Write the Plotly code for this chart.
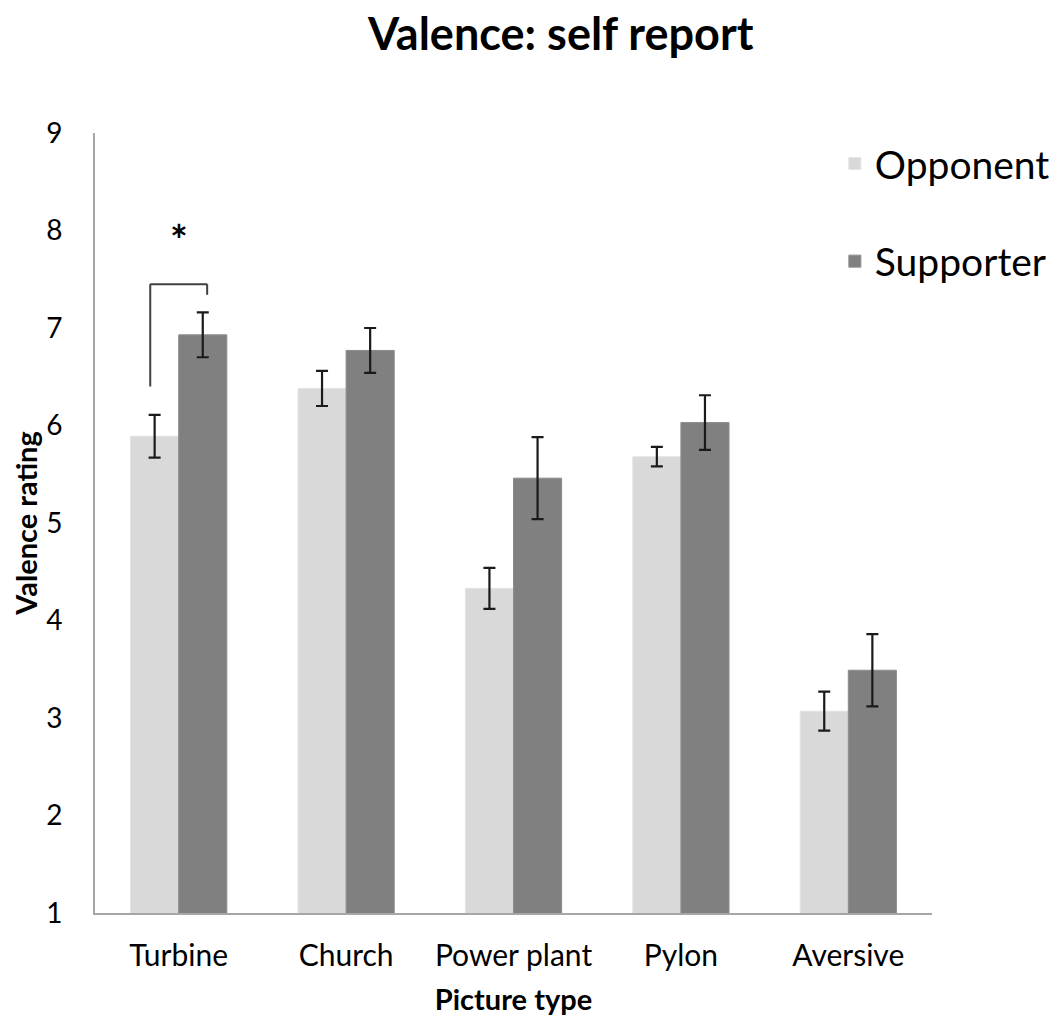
import plotly.graph_objects as go

categories = ["Turbine", "Church", "Power plant", "Pylon", "Aversive"]
opponent = [5.89, 6.38, 4.33, 5.68, 3.07]
opponent_err = [0.22, 0.18, 0.21, 0.10, 0.20]
supporter = [6.93, 6.77, 5.46, 6.03, 3.49]
supporter_err = [0.23, 0.23, 0.42, 0.28, 0.37]

FONT = "Lato"
TXT = "#000000"

fig = go.Figure()
fig.add_trace(go.Bar(
    name="Opponent", x=categories, y=opponent, legendgroup="a",
    marker=dict(color="#d9d9d9", line=dict(color="#e4e4e4", width=1)),
    error_y=dict(type="data", array=opponent_err, color="#1a1a1a", thickness=2.2, width=6),
))
fig.add_trace(go.Bar(
    name="Supporter", x=categories, y=supporter, legendgroup="b",
    marker=dict(color="#808080", line=dict(color="#8c8c8c", width=1)),
    error_y=dict(type="data", array=supporter_err, color="#1a1a1a", thickness=2.2, width=6),
))

# significance bracket (Turbine)
bracket_x = [-0.17, 0.17]
bracket_y = [6.40, 7.45, 7.34]
fig.add_shape(type="line", x0=bracket_x[0], x1=bracket_x[0], y0=bracket_y[0], y1=bracket_y[1],
              xref="x", yref="y", line=dict(color="#404040", width=2))
fig.add_shape(type="line", x0=bracket_x[0], x1=bracket_x[1], y0=bracket_y[1], y1=bracket_y[1],
              xref="x", yref="y", line=dict(color="#404040", width=2))
fig.add_shape(type="line", x0=bracket_x[1], x1=bracket_x[1], y0=bracket_y[1], y1=bracket_y[2],
              xref="x", yref="y", line=dict(color="#404040", width=2))
fig.add_annotation(x=0.0, y=7.90, xref="x", yref="y", text="<b>*</b>", showarrow=False,
                   font=dict(family=FONT, size=42, color=TXT))

# chart title
fig.add_annotation(x=0.5556, y=1.128, xref="paper", yref="paper", xanchor="center", yanchor="middle",
                   text="<b>Valence: self report</b>", showarrow=False,
                   font=dict(family=FONT, size=45, color=TXT))

fig.update_layout(
    width=1050, height=1013,
    margin=dict(l=87, r=126, t=125, b=108, autoexpand=False),
    paper_bgcolor="white", plot_bgcolor="white",
    barmode="group", bargap=0.425, bargroupgap=0,
    font=dict(family=FONT, color=TXT),
    legend=dict(xref="container", yref="container", x=0.997, xanchor="right", y=0.878, yanchor="top",
                font=dict(family=FONT, size=39, color=TXT), tracegroupgap=44,
                bgcolor="rgba(0,0,0,0)"),
    xaxis=dict(showline=True, linecolor="#a6a6a6", linewidth=2, showgrid=False, ticks="",
               tickfont=dict(family=FONT, size=30, color=TXT), ticklabelstandoff=15,
               title=dict(text="<b>Picture type</b>", font=dict(family=FONT, size=29, color=TXT), standoff=19)),
    yaxis=dict(range=[1, 9], dtick=1, showline=True, linecolor="#a6a6a6", linewidth=2,
               showgrid=False, zeroline=False, ticks="",
               tickfont=dict(family=FONT, size=28, color=TXT), ticklabelstandoff=25,
               title=dict(text="<b>Valence rating</b>", font=dict(family=FONT, size=29, color=TXT), standoff=12)),
)

fig.write_html("out.html")
